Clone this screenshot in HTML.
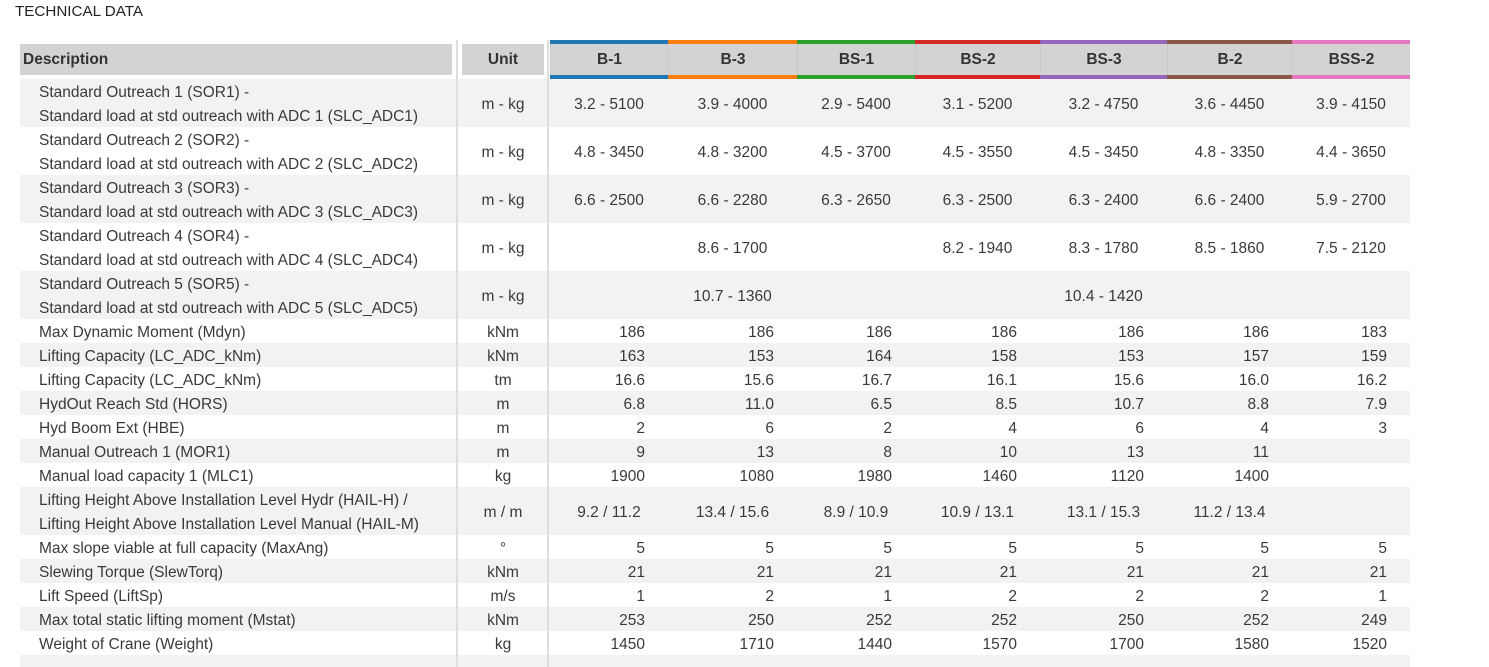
<!DOCTYPE html>
<html><head><meta charset="utf-8"><style>
body{margin:0;width:1489px;height:667px;overflow:hidden;background:#fff;font-family:"Liberation Sans",sans-serif;color:#3a3a3a;position:relative}
.t{position:absolute;left:15px;top:3px;font-size:15.2px;color:#222}
.row{position:absolute;left:20px;width:1390px}
.g{background:#f2f2f2}
.c{position:absolute;font-size:15.5px;display:flex;align-items:center;height:100%;top:0;padding-top:3px;box-sizing:border-box}
.vl{position:absolute;width:2px;background:#dedede;top:40px;height:627px}
.h{position:absolute;top:44px;height:31px;background:#d3d3d3;font-size:15.5px;font-weight:bold;color:#333;display:flex;align-items:center}
.bar{position:absolute;height:4px}
</style></head><body>
<div class="t">TECHNICAL DATA</div>
<div id="tbl"></div>
<div class="vl" style="left:456px"></div>
<div class="vl" style="left:547px"></div>
<script>
const models=["B-1","B-3","BS-1","BS-2","BS-3","B-2","BSS-2"];
const colors=["#1f77b4","#ff7f0e","#2ca02c","#d62728","#9467bd","#8c564b","#e377c2"];
const colX=[550,668,797,915,1040,1167,1292,1410];
const rows=[
["Standard Outreach 1 (SOR1) -<br>Standard load at std outreach with ADC 1 (SLC_ADC1)","m - kg",["3.2 - 5100","3.9 - 4000","2.9 - 5400","3.1 - 5200","3.2 - 4750","3.6 - 4450","3.9 - 4150"],1],
["Standard Outreach 2 (SOR2) -<br>Standard load at std outreach with ADC 2 (SLC_ADC2)","m - kg",["4.8 - 3450","4.8 - 3200","4.5 - 3700","4.5 - 3550","4.5 - 3450","4.8 - 3350","4.4 - 3650"],1],
["Standard Outreach 3 (SOR3) -<br>Standard load at std outreach with ADC 3 (SLC_ADC3)","m - kg",["6.6 - 2500","6.6 - 2280","6.3 - 2650","6.3 - 2500","6.3 - 2400","6.6 - 2400","5.9 - 2700"],1],
["Standard Outreach 4 (SOR4) -<br>Standard load at std outreach with ADC 4 (SLC_ADC4)","m - kg",["","8.6 - 1700","","8.2 - 1940","8.3 - 1780","8.5 - 1860","7.5 - 2120"],1],
["Standard Outreach 5 (SOR5) -<br>Standard load at std outreach with ADC 5 (SLC_ADC5)","m - kg",["","10.7 - 1360","","","10.4 - 1420","",""],1],
["Max Dynamic Moment (Mdyn)","kNm",["186","186","186","186","186","186","183"],0],
["Lifting Capacity (LC_ADC_kNm)","kNm",["163","153","164","158","153","157","159"],0],
["Lifting Capacity (LC_ADC_kNm)","tm",["16.6","15.6","16.7","16.1","15.6","16.0","16.2"],0],
["HydOut Reach Std (HORS)","m",["6.8","11.0","6.5","8.5","10.7","8.8","7.9"],0],
["Hyd Boom Ext (HBE)","m",["2","6","2","4","6","4","3"],0],
["Manual Outreach 1 (MOR1)","m",["9","13","8","10","13","11",""],0],
["Manual load capacity 1 (MLC1)","kg",["1900","1080","1980","1460","1120","1400",""],0],
["Lifting Height Above Installation Level Hydr (HAIL-H) /<br>Lifting Height Above Installation Level Manual (HAIL-M)","m / m",["9.2 / 11.2","13.4 / 15.6","8.9 / 10.9","10.9 / 13.1","13.1 / 15.3","11.2 / 13.4",""],1],
["Max slope viable at full capacity (MaxAng)","°",["5","5","5","5","5","5","5"],0],
["Slewing Torque (SlewTorq)","kNm",["21","21","21","21","21","21","21"],0],
["Lift Speed (LiftSp)","m/s",["1","2","1","2","2","2","1"],0],
["Max total static lifting moment (Mstat)","kNm",["253","250","252","252","250","252","249"],0],
["Weight of Crane (Weight)","kg",["1450","1710","1440","1570","1700","1580","1520"],0]
];
const T=document.getElementById('tbl');
function mk(tag,cls,style,html){const e=document.createElement(tag);if(cls)e.className=cls;e.setAttribute('style',style);if(html!=null)e.innerHTML=html;T.appendChild(e);return e;}
let h=mk('div','h','left:20px;width:432px;padding-left:3px;box-sizing:border-box','Description');


h=mk('div','h','left:462px;width:82px;justify-content:center','Unit');


models.forEach((m,i)=>{
 const x=colX[i],w=colX[i+1]-colX[i];
 const e=mk('div','h',`left:${x}px;width:${w}px;justify-content:center;border-left:1px solid #c8c8c8;box-sizing:border-box`,m);
 
 
 const b1=mk('div','bar',`left:${x}px;width:${w}px;top:40px;background:${colors[i]}`);
 
 
 const b2=mk('div','bar',`left:${x}px;width:${w}px;top:75px;background:${colors[i]}`);
 
 
});
let y=79;
rows.forEach((r,ri)=>{
 const hh=r[3]?48:24;
 const row=mk('div','row'+(ri%2===0?' g':''),`top:${y}px;height:${hh}px`);
 
 
 const d=document.createElement('div');d.className='c';d.setAttribute('style','left:19px;line-height:24px');d.innerHTML=r[0];
 
 
 row.appendChild(d);
 const u=document.createElement('div');u.className='c';u.setAttribute('style','left:442px;width:82px;justify-content:center');u.innerHTML=r[1];
 
 
 row.appendChild(u);
 r[2].forEach((v,i)=>{
  const x=colX[i]-20,w=colX[i+1]-colX[i];
  const c=document.createElement('div');c.className='c';
  const range=v.indexOf('-')>0||v.indexOf('/')>0;
  c.setAttribute('style',`left:${x}px;width:${w}px;`+(range?'justify-content:center':'justify-content:flex-end;padding-right:23px'));
  c.textContent=v;
  
  
  row.appendChild(c);
 });
 y+=hh;
});
const end=mk('div','row g',`top:${y}px;height:12px`);


</script>
</body></html>
